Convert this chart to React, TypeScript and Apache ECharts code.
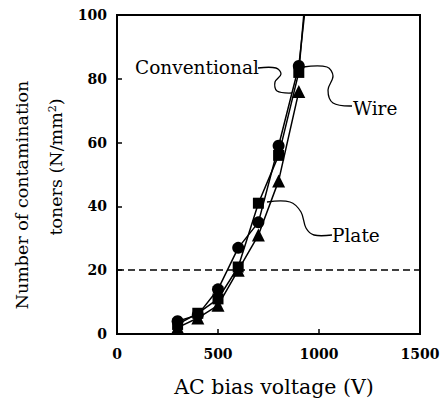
import React, { useEffect, useRef } from "react";
import * as echarts from "echarts";

const voltages = [300, 400, 500, 600, 700, 800, 900];
const conventional = [4, 6, 14, 27, 35, 59, 84];
const plate = [3, 6.5, 11, 21, 41, 56, 82];
const wire = [2, 5, 9, 20, 31, 48, 76];
// trend continuation beyond the last measured point (leaves the plot at the top)
const conventionalTail: [number, number] = [935, 104];
const plateTail: [number, number] = [930, 104];

const xTicks = [0, 500, 1000, 1500];
const yTicks = [0, 20, 40, 60, 80, 100];
const threshold = 20;

const FONT = "DejaVu Serif";

function pairs(vals: number[]) {
  return vals.map((v, i) => [voltages[i], v]);
}

export default function App() {
  const ref = useRef<HTMLDivElement>(null);
  useEffect(() => {
    if (!ref.current) return;
    const chart = echarts.init(ref.current, null, { renderer: "svg" });
    const lineStyle = { color: "#000", width: 1.5 };
    const itemStyle = { color: "#000" };
    const leader = (pts: number[][]) => ({
      type: "polyline",
      shape: { points: pts, smooth: 0.35 },
      style: { stroke: "#000", lineWidth: 1.3, fill: null },
      z: 10,
    });
    const label = (text: string, x: number, y: number) => ({
      type: "text",
      x,
      y,
      style: {
        text,
        fontFamily: FONT,
        fontSize: 18.5,
        fill: "#000",
        textAlign: "left",
        textVerticalAlign: "middle",
      },
      z: 10,
    });
    chart.setOption({
      animation: false,
      backgroundColor: "#fff",
      grid: {
        left: 117,
        right: 24,
        top: 15,
        bottom: 70,
        show: true,
        borderColor: "#000",
        borderWidth: 2,
      },
      xAxis: {
        type: "value",
        min: xTicks[0],
        max: xTicks[xTicks.length - 1],
        interval: 500,
        axisLine: { lineStyle: { color: "#000", width: 2 } },
        axisTick: { inside: true, length: 5, lineStyle: { color: "#000", width: 1.5 } },
        axisLabel: {
          color: "#000",
          fontFamily: FONT,
          fontSize: 14,
          fontWeight: "bold",
          margin: 13,
          formatter: (v: number) => String(v),
        },
        splitLine: { show: false },
      },
      yAxis: {
        type: "value",
        min: yTicks[0],
        max: yTicks[yTicks.length - 1],
        interval: 20,
        axisLine: { show: true, lineStyle: { color: "#000", width: 2 } },
        axisTick: { show: true, inside: true, length: 5, lineStyle: { color: "#000", width: 1.5 } },
        axisLabel: {
          color: "#000",
          fontFamily: FONT,
          fontSize: 14,
          fontWeight: "bold",
          margin: 10,
          formatter: (v: number) => String(v),
        },
        splitLine: { show: false },
      },
      series: [
        {
          name: "Conventional",
          type: "line",
          symbol: "circle",
          symbolSize: 12,
          data: [...pairs(conventional), { value: conventionalTail, symbol: "none" }],
          lineStyle,
          itemStyle,
          markLine: {
            silent: true,
            symbol: "none",
            label: { show: false },
            lineStyle: { color: "#000", width: 1.5, type: [7, 4] },
            data: [{ yAxis: threshold }],
          },
        },
        {
          name: "Plate",
          type: "line",
          symbol: "rect",
          symbolSize: 11,
          data: [...pairs(plate), { value: plateTail, symbol: "none" }],
          lineStyle,
          itemStyle,
        },
        {
          name: "Wire",
          type: "line",
          symbol: "triangle",
          symbolSize: 13,
          data: pairs(wire),
          lineStyle,
          itemStyle,
        },
      ],
      graphic: [
        label("Conventional", 135, 67),
        label("Wire", 353, 108),
        label("Plate", 332, 235),
        leader([[258, 68], [276, 68], [281, 74], [275, 82], [277, 91], [292, 93]]),
        leader([[303, 67], [327, 67], [333, 76], [328, 90], [333, 103], [352, 106]]),
        leader([[267, 202], [290, 202], [301, 212], [306, 228], [314, 235], [332, 235]]),
        {
          type: "text",
          x: 274,
          y: 387,
          style: {
            text: "AC bias voltage (V)",
            fontFamily: FONT,
            fontSize: 20.5,
            fill: "#000",
            textAlign: "center",
            textVerticalAlign: "middle",
          },
        },
        {
          type: "text",
          x: 22,
          y: 195,
          rotation: Math.PI / 2,
          style: {
            text: "Number of contamination",
            fontFamily: FONT,
            fontSize: 17.5,
            fill: "#000",
            textAlign: "center",
            textVerticalAlign: "middle",
          },
        },
        {
          type: "text",
          x: 56,
          y: 167,
          rotation: Math.PI / 2,
          style: {
            text: "toners (N/mm{sup|2})",
            fontFamily: FONT,
            fontSize: 17.5,
            fill: "#000",
            textAlign: "center",
            textVerticalAlign: "middle",
            rich: {
              sup: {
                fontFamily: FONT,
                fontSize: 11,
                verticalAlign: "top",
                padding: [0, 0, 7, 0],
                fill: "#000",
              },
            },
          },
        },
      ],
    });
    return () => chart.dispose();
  }, []);
  return (
    <div
      ref={ref}
      style={{ position: "fixed", left: 0, top: 0, width: 444, height: 404 }}
    />
  );
}
